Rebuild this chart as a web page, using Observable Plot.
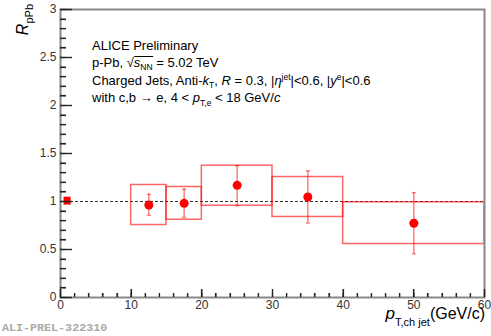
<!DOCTYPE html>
<html>
<head>
<meta charset="utf-8">
<script src="https://cdn.jsdelivr.net/npm/d3@7"></script>
<script src="https://cdn.jsdelivr.net/npm/@observablehq/plot@0.6"></script>
<style>
  html, body { margin: 0; padding: 0; background: #fff; }
  #chart { position: relative; width: 491px; height: 336px; }
</style>
</head>
<body>
<div id="chart"></div>
<script>
// ---- data ----
const binLow   = [10, 15, 20, 30, 40];
const binHigh  = [15, 20, 30, 40, 60];
const ptCenter = [12.5, 17.5, 25, 35, 50];
const rpPb     = [0.963, 0.981, 1.168, 1.047, 0.773];
const statLow  = [0.856, 0.835, 0.956, 0.776, 0.456];
const statHigh = [1.075, 1.127, 1.373, 1.318, 1.092];
const sysLow   = [0.755, 0.810, 0.956, 0.839, 0.557];
const sysHigh  = [1.172, 1.151, 1.373, 1.255, 0.992];
// normalisation uncertainty box near pT = 0
const normX = [0.5, 1.5];
const normY = [0.962, 1.045];
const yMajor = [0, 0.5, 1, 1.5, 2, 2.5, 3];
const xMajor = [0, 10, 20, 30, 40, 50, 60];
const yMinor = d3.range(0, 31).map(i => i / 10);
const xMinor = d3.range(0, 31).map(i => i * 2);

const points = ptCenter.map((x, i) => ({
  x, y: rpPb[i], lo: statLow[i], hi: statHigh[i],
  x1: binLow[i], x2: binHigh[i], s1: sysLow[i], s2: sysHigh[i]
}));
const norm = [{x1: normX[0], x2: normX[1], y1: normY[0], y2: normY[1]}];

const red = "#ff0000";
const axisCol = "#333";
const W = 491, H = 336, ML = 60, MR = 7, MT = 9, MB = 39;
const FW = W - ML - MR, FH = H - MT - MB;
const capSymbol = {draw(context, size) { const r = Math.sqrt(size / Math.PI); context.moveTo(-r, 0); context.lineTo(r, 0); }};

const plot = Plot.plot({
  width: W,
  height: H,
  marginLeft: ML,
  marginRight: MR,
  marginTop: MT,
  marginBottom: MB,
  style: {fontFamily: "Liberation Sans, Arial, sans-serif", fontSize: "12px"},
  x: {domain: [0, 60], label: null},
  y: {domain: [0, 3], label: null},
  marks: [
    Plot.ruleY([1], {stroke: "#333", strokeDasharray: "3,2", strokeWidth: 1}),
    Plot.rect(points, {x1: "x1", x2: "x2", y1: "s1", y2: "s2", fill: "none", stroke: red, strokeOpacity: 0.6, strokeWidth: 1.5}),
    Plot.ruleX(points, {x: "x", y1: "lo", y2: "hi", stroke: red, strokeOpacity: 0.5, strokeWidth: 1.5}),
    Plot.dot(points, {x: "x", y: "hi", r: 2, symbol: capSymbol, fill: "none", stroke: red, strokeOpacity: 0.5, strokeWidth: 1.5}),
    Plot.dot(points, {x: "x", y: "lo", r: 2, symbol: capSymbol, fill: "none", stroke: red, strokeOpacity: 0.5, strokeWidth: 1.5}),
    Plot.dot(points, {x: "x", y: "y", r: 4.5, fill: red, stroke: "none"}),
    Plot.rect(norm, {x1: "x1", x2: "x2", y1: "y1", y2: "y2", fill: red}),
    Plot.frame({stroke: "#888", strokeWidth: 2}),
    Plot.tickY(yMinor, {y: d => d, insetRight: FW - 6, stroke: "#222", strokeWidth: 1.2}),
    Plot.tickY(yMajor, {y: d => d, insetRight: FW - 12, stroke: "#222", strokeWidth: 1.2}),
    Plot.axisY({ticks: yMajor, tickSize: 0, tickPadding: 4, tickFormat: d => String(d), fill: axisCol, fontSize: 12, label: null}),
    Plot.tickX(xMinor, {x: d => d, insetTop: FH - 4, stroke: "#222", strokeWidth: 1.2}),
    Plot.tickX(xMajor, {x: d => d, insetTop: FH - 8, stroke: "#222", strokeWidth: 1.2}),
    Plot.axisX({ticks: xMajor, tickSize: 0, tickPadding: 3, tickFormat: d => String(d), fill: axisCol, fontSize: 12, label: null})
  ]
});

document.getElementById("chart").appendChild(plot);
const svg = d3.select(plot);
const font = "Liberation Sans, Arial, sans-serif";

// inward axis ticks drawn again through Plot's own scales (safety layer)
const sx = plot.scale("x"), sy = plot.scale("y");
const tg = svg.append("g").attr("stroke", "#222").attr("stroke-width", 1.2);
for (const v of yMinor) {
  const yy = Math.round(sy.apply(v)) + 0.5, len = yMajor.some(m => Math.abs(m - v) < 1e-9) ? 12 : 6;
  tg.append("line").attr("x1", ML).attr("x2", ML + len).attr("y1", yy).attr("y2", yy);
}
for (const v of xMinor) {
  const xx = Math.round(sx.apply(v)) + 0.5, len = xMajor.includes(v) ? 8 : 4;
  tg.append("line").attr("x1", xx).attr("x2", xx).attr("y1", H - MB).attr("y2", H - MB - len);
}

function rich(x, y, parts, size, opts = {}) {
  const t = svg.append("text").attr("x", x).attr("y", y)
    .attr("font-family", font).attr("font-size", size).attr("fill", opts.fill || "#000")
    .attr("text-anchor", opts.anchor || "start");
  if (opts.transform) t.attr("transform", opts.transform);
  for (const p of parts) {
    const s = t.append("tspan").text(p.t);
    if (p.i) s.attr("font-style", "italic");
    if (p.fs) s.attr("font-size", p.fs);
    if (p.dy) s.attr("dy", p.dy);
    if (p.cls) s.attr("class", p.cls);
  }
  return t;
}

const X0 = 92;
rich(X0, 50, [{t: "ALICE Preliminary"}], 13);
rich(X0, 67, [
  {t: "p-Pb, "},
  {t: "\u221A", cls: "sqrt-sign"},
  {t: "s", i: true},
  {t: "NN", fs: 8.5, dy: 3, cls: "sqrt-end"},
  {t: " = 5.02 TeV", dy: -3}
], 13);
rich(X0, 85, [
  {t: "Charged Jets, Anti-"},
  {t: "k", i: true},
  {t: "T", fs: 8.5, dy: 3},
  {t: ", ", dy: -3},
  {t: "R", i: true},
  {t: " = 0.3, |"},
  {t: "\u03B7", i: true},
  {t: "jet", fs: 8.5, dy: -5},
  {t: "|<0.6, |", dy: 5},
  {t: "y", i: true},
  {t: "e", fs: 8.5, dy: -5},
  {t: "|<0.6", dy: 5}
], 13);
rich(X0, 102, [
  {t: "with c,b \u2192 e, 4 < "},
  {t: "p", i: true},
  {t: "T,e", fs: 8.5, dy: 4},
  {t: " < 18 GeV/", dy: -4},
  {t: "c", i: true}
], 13);
try {
  const sq = plot.querySelector(".sqrt-sign"), nn = plot.querySelector(".sqrt-end");
  const b1 = sq.getBBox(), b2 = nn.getBBox();
  svg.append("line").attr("x1", b1.x + b1.width - 0.5).attr("x2", b2.x + b2.width + 0.5)
    .attr("y1", b1.y + 1.5).attr("y2", b1.y + 1.5).attr("stroke", "#000").attr("stroke-width", 1);
} catch (e) {}

rich(485, 319, [
  {t: "p", i: true, fs: 17},
  {t: "T,ch jet", fs: 11, dy: 7},
  {t: "(GeV/c)", dy: -7}
], 16, {anchor: "end"});

rich(0, 0, [
  {t: "R", i: true, fs: 16},
  {t: "pPb", fs: 11, dy: 5}
], 16, {anchor: "end", transform: "translate(28,4) rotate(-90)"});

svg.append("text").attr("x", 2).attr("y", 331).attr("text-anchor", "start")
  .attr("font-family", "Liberation Mono, Courier New, monospace")
  .attr("font-size", 11.7).attr("font-weight", "bold").attr("fill", "#aaa")
  .text("ALI-PREL-322310");
</script>
</body>
</html>
